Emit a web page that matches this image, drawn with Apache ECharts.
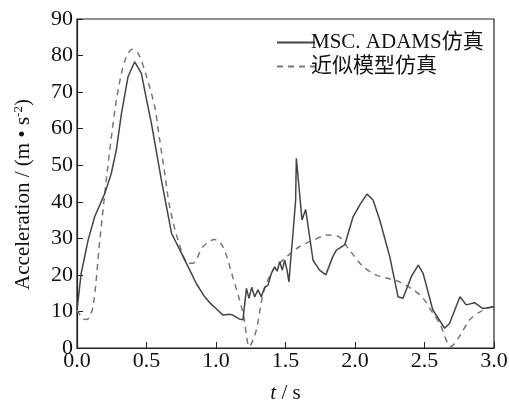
<!DOCTYPE html>
<html>
<head>
<meta charset="utf-8">
<script src="https://cdn.jsdelivr.net/npm/echarts@6/dist/echarts.min.js"></script>
<style>
  html, body { margin: 0; padding: 0; background: #fff; }
  #chart { width: 509px; height: 406px; }
</style>
</head>
<body>
<div id="chart"></div>
<script>
// ====== Data ======
const seriesNames = ['MSC. ADAMS仿真', '近似模型仿真'];

// MSC. ADAMS simulation (solid)
const tAdams = [0, 0.03, 0.08, 0.127, 0.2, 0.247, 0.283, 0.32, 0.367, 0.415, 0.463, 0.5, 0.535, 0.607, 0.68, 0.775, 0.823, 0.86, 0.919, 0.96, 1.0, 1.05, 1.1, 1.12, 1.17, 1.194,
  1.219, 1.237, 1.257, 1.278, 1.302, 1.326, 1.35, 1.374, 1.398, 1.422, 1.44, 1.458, 1.477, 1.494, 1.51, 1.525, 1.537, 1.554, 1.573, 1.578,
  1.619, 1.645, 1.698, 1.745, 1.79, 1.84, 1.866, 1.926, 1.986, 2.04, 2.086, 2.13, 2.178, 2.25, 2.31, 2.345, 2.405, 2.455, 2.49, 2.56, 2.645, 2.68, 2.755, 2.8, 2.86, 2.92, 3.0];
const aAdams = [10.4, 20.4, 29.5, 35.9, 42.3, 47.8, 54.2, 64.2, 74.2, 78.3, 75.1, 68, 61.5, 46, 31.4, 24.1, 20.4, 17.5, 14, 12.2, 10.8, 9, 9.2, 9, 7.9, 7.7,
  16.3, 13.6, 16.6, 14, 15.9, 14, 16.6, 17.2, 20.4, 22.2, 21, 23.6, 21.3, 24, 21.5, 18.1, 24, 31.4, 40.5, 51.9,
  35, 37.9, 24, 21.3, 20, 25, 26.8, 28.2, 35.9, 39.5, 42.1, 40.5, 35, 25, 14, 13.6, 19.5, 22.7, 20.4, 10.4, 5.4, 6.7, 14, 11.8, 12.4, 10.8, 11.3];

// approximate model (dashed)
const tModel = [0, 0.04, 0.07, 0.115, 0.164, 0.216, 0.276, 0.319, 0.355, 0.396, 0.44, 0.494, 0.559, 0.595, 0.631, 0.667, 0.727, 0.8, 0.835, 0.906, 0.99, 1.05, 1.12, 1.195, 1.24, 1.29, 1.34, 1.41, 1.51, 1.6, 1.70, 1.805, 1.89, 1.96, 2.06, 2.15, 2.24, 2.32, 2.42, 2.49, 2.56, 2.61, 2.69, 2.75, 2.825, 2.9, 3.0];
const aModel = [10.4, 8.1, 7.8, 11.3, 29.5, 47.8, 66, 75, 79.6, 81.7, 80.6, 75, 66, 56.9, 47.8, 38.6, 29.5, 23.2, 23.2, 27.7, 29.7, 27.7, 19.5, 9.5, 0.4, 4.9, 15, 21.3, 25, 27.7, 29.5, 30.9, 30.3, 26.8, 22.2, 20, 19, 18.1, 15.9, 13.6, 9.5, 6.7, 0.4, 3.1, 7.7, 9.9, 11.5];

const xTicks = [0, 0.5, 1, 1.5, 2, 2.5, 3];
const yTicks = [0, 10, 20, 30, 40, 50, 60, 70, 80, 90];

const serif = '"Liberation Serif", "Noto Sans CJK SC", serif';

const chart = echarts.init(document.getElementById('chart'));

const option = {
  backgroundColor: '#fff',
  animation: false,
  grid: {
    left: 77, right: 15, top: 19, bottom: 58,
    outerBoundsMode: 'none',
    containLabel: false,
    show: true, borderColor: '#222', borderWidth: 1.2
  },
  legend: {
    orient: 'vertical',
    left: 271, top: 27,
    itemWidth: 38, itemHeight: 10, itemGap: 3,
    itemStyle: { opacity: 0 },
    textStyle: { fontFamily: serif, fontSize: 21, color: '#111', padding: [0, 0, 0, -9] },
    data: seriesNames
  },
  xAxis: {
    type: 'value',
    min: xTicks[0], max: xTicks[xTicks.length - 1], interval: 0.5,
    name: '{i|t} / s',
    nameLocation: 'middle', nameGap: 35,
    nameTextStyle: {
      fontFamily: serif, fontSize: 21, color: '#111',
      rich: { i: { fontFamily: serif, fontSize: 21, fontStyle: 'italic', color: '#111' } }
    },
    axisLine: { lineStyle: { color: '#222', width: 1.2 } },
    axisTick: { inside: true, length: 6, lineStyle: { color: '#222' } },
    splitLine: { show: false },
    axisLabel: {
      fontFamily: serif, fontSize: 22, color: '#111', margin: 2,
      formatter: v => v.toFixed(1)
    }
  },
  yAxis: {
    type: 'value',
    min: yTicks[0], max: yTicks[yTicks.length - 1], interval: 10,
    name: '{a|Acceleration / (m • s}{s|-2}{a|)}',
    nameLocation: 'middle', nameGap: 42,
    nameTextStyle: {
      fontFamily: serif, fontSize: 21, color: '#111',
      padding: [0, 22, 0, 0],
      rich: {
        a: { fontFamily: serif, fontSize: 21, color: '#111' },
        s: { fontFamily: serif, fontSize: 13, color: '#111', verticalAlign: 'top', padding: [0, 0, 10, 0] }
      }
    },
    axisLine: { show: true, lineStyle: { color: '#222', width: 1.2 } },
    axisTick: { show: true, inside: true, length: 6, lineStyle: { color: '#222' } },
    splitLine: { show: false },
    axisLabel: { fontFamily: serif, fontSize: 22, color: '#111', margin: 4 }
  },
  series: [
    {
      name: seriesNames[0],
      type: 'line',
      symbol: 'none',
      data: tAdams.map((t, i) => [t, aAdams[i]]),
      lineStyle: { color: '#444', width: 1.5 },
      itemStyle: { color: '#444' },
      z: 3
    },
    {
      name: seriesNames[1],
      type: 'line',
      symbol: 'none',
      smooth: 0.3,
      data: tModel.map((t, i) => [t, aModel[i]]),
      lineStyle: { color: '#777', width: 1.5, type: [6, 5] },
      itemStyle: { color: '#777' },
      z: 2
    }
  ]
};

chart.setOption(option);
</script>
</body>
</html>
